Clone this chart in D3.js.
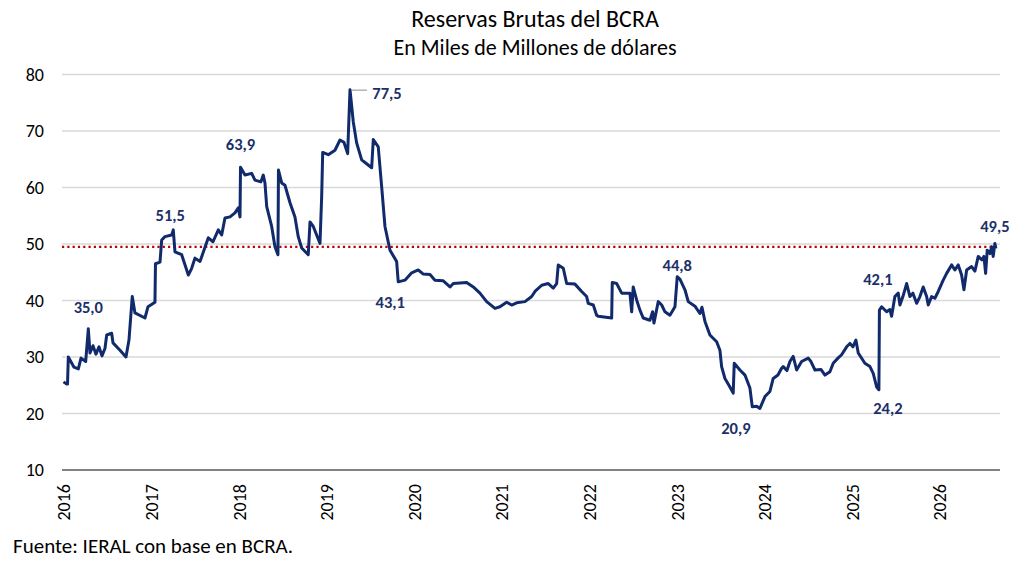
<!DOCTYPE html>
<html>
<head>
<meta charset="utf-8">
<script src="https://cdn.jsdelivr.net/npm/d3@7"></script>
<style>
  body { margin: 0; background: #fff; }
  svg { display: block; font-family: Carlito, Lato, sans-serif; }
</style>
</head>
<body>
<svg id="chart" width="1024" height="566"></svg>
<script>
// meses desde enero 2016 y reservas brutas (miles de millones de USD)
const meses = [0, 0.44, 0.55, 0.66, 1.44, 2.03, 2.40, 3.04, 3.40, 3.63, 4.04, 4.45, 4.86, 5.27, 5.68, 5.92,
  6.60, 6.78, 7.74, 8.56, 8.97, 9.42, 9.79, 11.16, 11.58, 12.53, 12.60, 13.22, 13.45, 13.90, 14.82, 15.04,
  15.27, 16.19, 17.10, 17.56, 18.01, 18.70, 19.11, 19.84, 20.48, 21.21, 21.67, 22.12, 22.81, 23.49, 23.95,
  24.18, 24.25, 24.86, 25.78, 26.23, 27.05, 27.37, 27.60, 27.84, 28.52, 28.97, 29.38, 29.45, 29.89, 30.34,
  31.03, 31.71, 32.16, 32.63, 33.53, 33.77, 34.22, 35.14, 35.37, 35.51, 36.27, 37.19, 37.88, 38.42, 38.93,
  39.25, 39.70, 40.16, 40.85, 41.44, 42.22, 42.44, 43.12, 43.59, 44.04, 44.73, 45.64, 45.86, 46.78, 47.70,
  48.60, 49.25, 50.21, 50.89, 51.99, 52.95, 53.40, 55.23, 56.14, 57.05, 57.97, 59.11, 59.79, 60.71, 61.40,
  62.08, 63.22, 64.14, 64.59, 65.51, 66.41, 67.10, 67.56, 67.78, 68.47, 68.93, 70.07, 70.99, 71.67, 71.89,
  72.58, 73.04, 73.26, 75.10, 75.18, 75.78, 76.47, 77.60, 77.84, 78.05, 78.52, 78.97, 79.42, 80.34, 80.71,
  80.89, 81.48, 81.95, 82.40, 83.08, 83.77, 84.08, 84.45, 85.14, 85.59, 86.51, 87.19, 87.47, 87.88, 88.56,
  89.48, 89.93, 90.16, 90.62, 91.30, 91.75, 91.89, 92.67, 93.36, 94.04, 94.36, 94.96, 95.41, 96.10, 96.78,
  97.23, 97.88, 98.38, 98.60, 99.11, 99.52, 99.97, 100.44, 101.12, 102.03, 102.40, 102.95, 103.77, 104.32,
  105.00, 105.45, 106.10, 106.60, 107.29, 107.74, 108.15, 108.56, 108.88, 109.79, 110.48, 110.93, 111.40,
  111.71, 111.78, 112.08, 112.77, 113.22, 113.45, 113.90, 114.36, 114.59, 115.00, 115.51, 115.96, 116.37,
  116.88, 117.33, 117.78, 118.25, 118.47, 118.93, 119.38, 119.84, 120.52, 120.99, 121.67, 122.12, 122.58,
  123.04, 123.36, 123.73, 124.41, 124.86, 125.32, 125.82, 126.10, 126.33, 126.55, 126.92, 127.15, 127.37,
  127.60, 127.74];
const reservas = [25.6, 25.2, 25.2, 30.0, 28.2, 27.9, 29.8, 29.2, 35.0, 30.7, 32.0, 30.5, 31.8, 30.2, 31.5, 33.9,
  34.2, 32.5, 31.2, 30.0, 33.0, 40.7, 37.8, 36.9, 38.9, 39.7, 46.5, 46.8, 50.7, 51.3, 51.6, 52.5,
  48.6, 48.1, 44.5, 45.7, 47.5, 46.9, 48.4, 51.1, 50.4, 52.5, 51.6, 54.6, 54.8, 55.5, 56.4,
  54.8, 63.6, 62.2, 62.5, 61.3, 61.0, 62.2, 60.8, 56.6, 53.1, 49.5, 48.1, 63.1, 60.8, 60.4,
  57.3, 54.8, 51.3, 49.3, 48.1, 53.9, 53.1, 50.1, 58.4, 66.2, 65.8, 66.6, 68.4, 68.0, 66.0,
  77.3, 71.6, 67.9, 64.9, 64.3, 63.5, 68.5, 67.2, 60.1, 53.1, 48.9, 46.9, 43.3, 43.6, 44.9,
  45.4, 44.7, 44.6, 43.6, 43.5, 42.4, 43.0, 43.2, 42.4, 41.3, 39.8, 38.6, 38.9, 39.7, 39.2,
  39.6, 39.8, 40.7, 41.6, 42.7, 43.0, 42.2, 43.0, 46.3, 45.7, 43.0, 42.9, 41.6, 40.7, 39.5,
  39.2, 37.4, 37.2, 36.9, 43.2, 43.0, 41.3, 41.3, 38.0, 42.4, 40.1, 38.3, 36.9, 36.5, 38.0,
  36.0, 39.8, 39.2, 38.0, 37.4, 38.9, 44.2, 43.8, 41.9, 39.8, 39.0, 37.7, 38.8, 36.3, 33.9,
  32.7, 31.2, 28.3, 26.2, 24.7, 23.6, 28.9, 27.7, 26.8, 24.5, 21.2, 21.3, 20.9, 23.0, 23.9,
  26.2, 26.8, 28.0, 28.3, 27.6, 29.2, 30.1, 27.7, 29.2, 29.8, 29.2, 27.7, 27.8, 26.8,
  27.4, 28.9, 29.8, 30.4, 31.8, 32.4, 31.8, 33.0, 30.7, 28.9, 28.3, 27.1, 24.7,
  24.2, 38.3, 38.9, 38.0, 38.4, 37.2, 40.7, 41.3, 39.2, 40.7, 43.0, 40.7, 41.3,
  39.5, 40.7, 42.4, 40.7, 39.2, 40.7, 40.4, 41.6, 43.6, 44.8, 46.3, 45.4, 46.3,
  44.5, 41.9, 45.4, 46.0, 45.2, 47.8, 47.2, 47.8, 44.8, 48.9, 48.3, 49.5, 47.8,
  50.1, 49.2];

const anios = [2016, 2017, 2018, 2019, 2020, 2021, 2022, 2023, 2024, 2025, 2026];
const ticksY = [10, 20, 30, 40, 50, 60, 70, 80];
const nivelActual = 49.5;

// etiquetas de puntos destacados
const etiquetaMes = [3.40, 15.04, 24.25, 39.25, 45.86, 84.08, 95.41, 111.71, 111.78, 127.74];
const etiquetaValor = [35.0, 51.5, 63.9, 77.5, 43.1, 44.8, 20.9, 24.2, 42.1, 49.5];
const etiquetaDx = [0, -3, 0, 37, -8, 0, -24, 9, -1.5, -1];
const etiquetaDy = [-22, -20.5, -21, 4, 19, -8.5, 20, 18, -9.5, -21];

const azul = '#112a6c';
const svg = d3.select('#chart');

const x = d3.scaleLinear().domain([0, 128.3]).range([63.5, 1000]);
const y = d3.scaleLinear().domain([10, 80]).range([470, 74.5]);

// grilla horizontal
svg.append('g')
  .selectAll('line')
  .data(ticksY.filter(d => d > 10))
  .join('line')
  .attr('x1', x(0) - 1.5).attr('x2', x.range()[1])
  .attr('y1', d => y(d)).attr('y2', d => y(d))
  .attr('stroke', '#d9d9d9').attr('stroke-width', 1.3);

// eje y
const ejeY = svg.append('g')
  .attr('transform', `translate(${x(0) - 1.5},0)`)
  .call(d3.axisLeft(y).tickValues(ticksY).tickSize(0).tickPadding(18));
ejeY.select('.domain').remove();
ejeY.selectAll('text')
  .attr('font-size', 18).attr('fill', '#000')
  .style('font-family', 'Carlito, Lato, sans-serif');

// eje x
const ejeX = svg.append('g')
  .attr('transform', `translate(0,${y(10)})`)
  .call(d3.axisBottom(x).tickValues(anios.map(a => (a - 2016) * 12)).tickSize(0).tickFormat((d, i) => anios[i]));
ejeX.select('.domain')
  .attr('d', `M${x(0) - 1.5},0H${x.range()[1]}`)
  .attr('stroke', '#595959').attr('stroke-width', 1.3);
ejeX.selectAll('text')
  .attr('font-size', 18).attr('fill', '#000')
  .style('font-family', 'Carlito, Lato, sans-serif')
  .attr('text-anchor', 'end')
  .attr('transform', 'rotate(-90)')
  .attr('x', -14).attr('y', 0).attr('dy', '0.36em');

// línea de referencia
svg.append('line')
  .attr('x1', x(0) - 1.5).attr('x2', x.range()[1])
  .attr('y1', y(nivelActual)).attr('y2', y(nivelActual))
  .attr('stroke', '#c00000').attr('stroke-width', 2.3)
  .attr('stroke-dasharray', '2.2 3.1');

// serie
const datos = meses.map((m, i) => ({ m, v: reservas[i] }));
svg.append('path')
  .datum(datos)
  .attr('fill', 'none')
  .attr('stroke', azul)
  .attr('stroke-width', 3)
  .attr('stroke-linejoin', 'round')
  .attr('d', d3.line().x(d => x(d.m)).y(d => y(d.v)));

// etiquetas
const fmt = v => v.toFixed(1).replace('.', ',');
etiquetaMes.forEach((m, i) => {
  const esMax = etiquetaValor[i] === 77.5;
  if (esMax) {
    svg.append('line')
      .attr('x1', x(m) + 2).attr('x2', x(m) + 17)
      .attr('y1', y(etiquetaValor[i]) + 1.5).attr('y2', y(etiquetaValor[i]) + 1.5)
      .attr('stroke', '#8c8c8c').attr('stroke-width', 1);
  }
  svg.append('text')
    .attr('x', x(m) + etiquetaDx[i])
    .attr('y', y(etiquetaValor[i]) + etiquetaDy[i])
    .attr('text-anchor', 'middle')
    .attr('dominant-baseline', 'central')
    .attr('font-size', 16.5).attr('font-weight', 700)
    .attr('fill', '#1b3069')
    .text(fmt(etiquetaValor[i]));
});

// títulos
svg.append('text')
  .attr('x', 535).attr('y', 27)
  .attr('text-anchor', 'middle')
  .attr('font-size', 24).attr('fill', '#000')
  .text('Reservas Brutas del BCRA');
svg.append('text')
  .attr('x', 535).attr('y', 55)
  .attr('text-anchor', 'middle')
  .attr('font-size', 22).attr('fill', '#000')
  .text('En Miles de Millones de dólares');

svg.append('text')
  .attr('x', 13).attr('y', 553)
  .attr('font-size', 21).attr('fill', '#000')
  .text('Fuente: IERAL con base en BCRA.');
</script>
</body>
</html>
